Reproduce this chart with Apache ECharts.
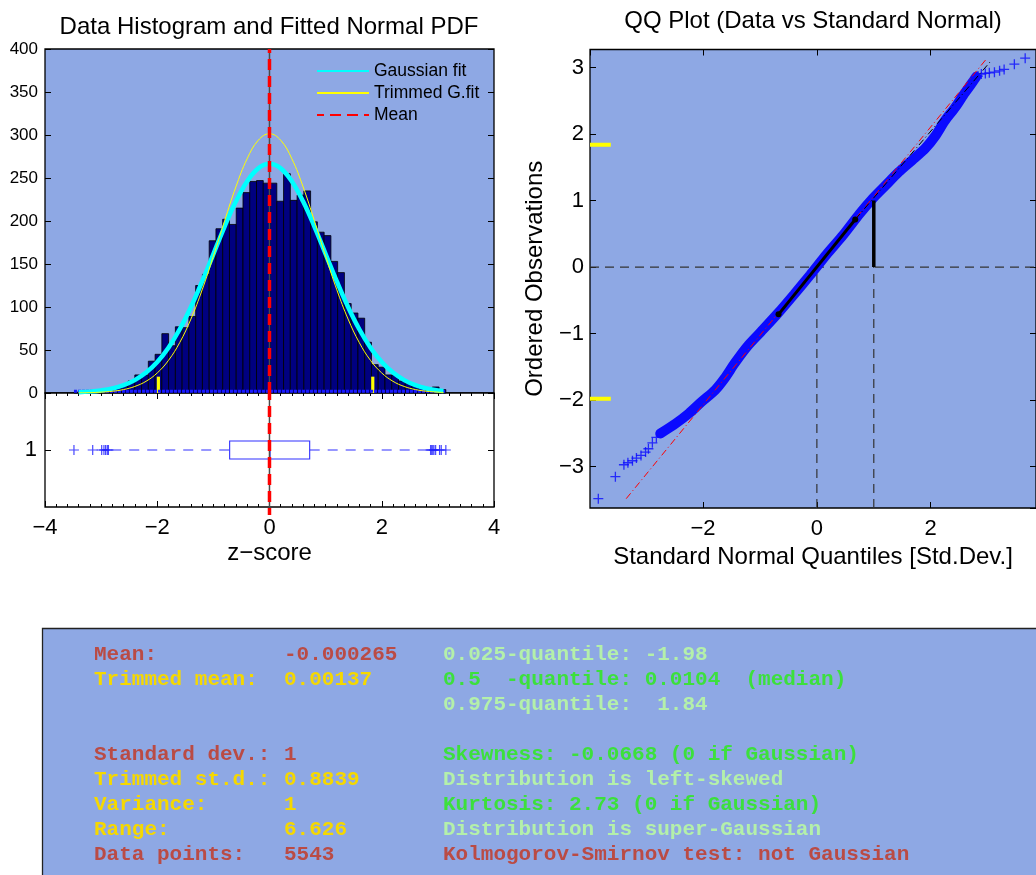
<!DOCTYPE html>
<html>
<head>
<meta charset="utf-8">
<script src="https://cdn.jsdelivr.net/npm/echarts@6.0.0/dist/echarts.min.js"></script>
<style>
html,body{margin:0;padding:0;background:#ffffff;}
#chart{width:1036px;height:875px;}
</style>
</head>
<body>
<div id="chart"></div>
<script>
// ---------------- Histogram (z-score) ----------------
const histBinStart = -3.484;
const histBinWidth = 0.12047;
const histCounts = [1,0,1,1,3,5,7,8,14,21,21,37,45,69,55,77,76,89,125,138,177,191,202,196,215,233,246,247,244,244,223,255,224,230,235,199,187,183,153,140,104,93,87,59,33,30,21,21,14,11,9,7,5,7,4];
const quantileMarksX = [-1.98, 1.84];
const quantileMarkHeight = 19;
const rugRange = [-3.484, 3.142];
const rugLevel = 2;
const meanValue = -0.000265;
const curveX      = [-3.4,-3.2,-3.0,-2.8,-2.6,-2.4,-2.2,-2.0,-1.8,-1.6,-1.4,-1.2,-1.0,-0.8,-0.6,-0.4,-0.2,0,0.2,0.4,0.6,0.8,1.0,1.2,1.4,1.6,1.8,2.0,2.2,2.4,2.6,2.8,3.0,3.1];
const gaussFitY   = [0.8,1.6,3.0,5.3,9.1,15.0,23.7,36.1,52.7,74.1,100,129.7,161.6,193.5,222.6,246,261.2,266.5,261.2,246,222.6,193.5,161.6,129.7,100,74.1,52.7,36.1,23.7,15.0,9.1,5.3,3.0,2.2];
const trimmedFitY = [0.2,0.4,1.0,2.0,4.0,7.6,13.6,23.3,37.9,58.6,86,119.9,159,200.2,239.5,272.2,293.9,301.5,293.9,272.2,239.5,200.2,159,119.9,86,58.6,37.9,23.3,13.6,7.6,4.0,2.0,1.0,0.6];
const histYTicks = [0,400,50];

// ---------------- Box plot ----------------
const boxCategories = ['1'];
const boxStats = [-2.82, -0.71, 0.0104, 0.716, 2.84]; // low whisker, q1, median, q3, high whisker
const boxOutliers = [-3.484,-3.15,-2.99,-2.95,-2.92,-2.89,-2.87,2.87,2.89,2.91,2.93,2.96,3.03,3.06,3.142];

// ---------------- QQ plot ----------------
const qqXRange = [-3.986, 3.85];
const qqYRange = [-3.62, 3.27];
const qqBandX = [-2.75,-2.48,-2.25,-2.02,-1.79,-1.62,-1.44,-1.21,-0.98,-0.69,-0.40,-0.12,0.17,0.46,0.75,0.98,1.21,1.44,1.68,1.91,2.08,2.25,2.43,2.57,2.72,2.80];
const qqBandY = [-2.50,-2.35,-2.20,-2.02,-1.85,-1.67,-1.44,-1.18,-0.97,-0.70,-0.41,-0.12,0.19,0.48,0.80,1.03,1.23,1.43,1.61,1.79,1.97,2.20,2.40,2.58,2.76,2.86];
const qqTailX = [-3.84,-3.54,-3.39,-3.32,-3.24,-3.17,-3.09,-3.01,-2.96,-2.89,-2.82, 2.83,2.89,2.96,3.03,3.12,3.21,3.29,3.47,3.66];
const qqTailY = [-3.48,-3.15,-2.97,-2.94,-2.91,-2.87,-2.83,-2.78,-2.73,-2.64,-2.56, 2.87,2.90,2.91,2.92,2.93,2.95,2.97,3.05,3.14];
const qqRefLineX = [-3.35, 2.99];
const qqRefLineY = [-3.48, 3.14];
const qqIqrX = [-0.674, 0.674];
const qqIqrY = [-0.71, 0.716];
const qqExtX = [0.674, 3.07];
const qqExtY = [0.716, 3.11];
const qqSigmaX = 1;
const qqSigmaTop = 1;
const qqQuantileY = [1.84, -1.98];
const qqQuantileMarkEnd = -3.62;

// ---------------- Statistics text ----------------
const statLabels = ['Mean:', 'Trimmed mean:', '', '', 'Standard dev.:', 'Trimmed st.d.:', 'Variance:', 'Range:', 'Data points:'];
const statValues = ['-0.000265', '0.00137', '', '', '1', '0.8839', '1', '6.626', '5543'];
const statNotes  = ['0.025-quantile: -1.98', '0.5  -quantile: 0.0104  (median)', '0.975-quantile:  1.84', '',
                    'Skewness: -0.0668 (0 if Gaussian)', 'Distribution is left-skewed', 'Kurtosis: 2.73 (0 if Gaussian)',
                    'Distribution is super-Gaussian', 'Kolmogorov-Smirnov test: not Gaussian'];
const statLabelColor = ['red','yellow','','','red','yellow','yellow','yellow','red'];
const statNoteColor  = ['pale','green','pale','','green','pale','green','pale','red'];

// ---------------- styling ----------------
const BG = '#8EA8E4';
const FONT = '"Liberation Sans", Arial, Helvetica, sans-serif';
const MONO = '"Liberation Mono", "DejaVu Sans Mono", monospace';
const COLORS = {red:'#BA4B45', yellow:'#F5D800', pale:'#B4F0AA', green:'#3CE03C'};
const minusFmt = v => String(v).replace('-', '\u2212');

const histData = histCounts.map((c, i) => [histBinStart + i * histBinWidth, histBinStart + (i + 1) * histBinWidth, c]);
const pairs = (xs, ys) => xs.map((x, i) => [x, ys[i]]);

const tickIn = {show:true, inside:true, length:6, lineStyle:{color:'#000', width:1}};
const noLine = {show:false, onZero:false};

const chart = echarts.init(document.getElementById('chart'), null, {renderer:'canvas'});

const graphic = [
  {type:'text', x:269, y:27, style:{text:'Data Histogram and Fitted Normal PDF', font:'24px ' + FONT, fill:'#000', align:'center', verticalAlign:'middle', textAlign:'center', textVerticalAlign:'middle'}},
  {type:'text', x:813, y:21, style:{text:'QQ Plot (Data vs Standard Normal)', font:'24px ' + FONT, fill:'#000', align:'center', verticalAlign:'middle', textAlign:'center', textVerticalAlign:'middle'}},
  {type:'rect', shape:{x:42.5, y:628.5, width:1100, height:400}, style:{fill:BG, stroke:'#222', lineWidth:1.3}}
];
statLabels.forEach((t, i) => {
  const y = 655 + 25 * i;
  const mk = (x, text, col) => ({type:'text', x:x, y:y, style:{text:text, font:'bold 21px ' + MONO, fill:COLORS[col] || '#000', align:'left', verticalAlign:'middle', textAlign:'left', textVerticalAlign:'middle'}});
  if (statLabels[i]) graphic.push(mk(94, statLabels[i], statLabelColor[i]));
  if (statValues[i]) graphic.push(mk(284, statValues[i], statLabelColor[i]));
  if (statNotes[i]) graphic.push(mk(443, statNotes[i], statNoteColor[i]));
});

const option = {
  animation: false,
  backgroundColor: '#ffffff',
  graphic: graphic,
  legend: {
    data: ['Gaussian fit', 'Trimmed G.fit', 'Mean'],
    orient: 'vertical', left: 316, top: 62, padding: 0,
    itemWidth: 52, itemHeight: 14, itemGap: 4,
    itemStyle: {color: 'rgba(0,0,0,0)', borderWidth: 0, opacity: 0},
    textStyle: {fontSize: 17.5, fontFamily: FONT, color: '#000'},
    selectedMode: false
  },
  grid: [
    {left:45, top:49, width:449, height:344, show:true, backgroundColor:BG, borderColor:'#000', borderWidth:1.3},
    {left:45, top:393, width:449, height:114, show:true, backgroundColor:'#ffffff', borderColor:'#000', borderWidth:1.3},
    {left:590, top:49.5, width:450, height:458.5, show:true, backgroundColor:BG, borderColor:'#000', borderWidth:1.3}
  ],
  xAxis: [
    {gridIndex:0, type:'value', min:-4, max:4, interval:2, axisLine:noLine, axisTick:{show:false}, axisLabel:{show:false}, splitLine:{show:false}},
    {gridIndex:1, type:'value', min:-4, max:4, interval:2, position:'bottom', axisLine:noLine, axisTick:tickIn,
      minorTick:{show:true, splitNumber:10, length:3, lineStyle:{color:'#000'}}, minorSplitLine:{show:false},
      axisLabel:{fontSize:22, fontFamily:FONT, color:'#000', margin:10, formatter:minusFmt}, splitLine:{show:false},
      name:'z\u2212score', nameLocation:'middle', nameGap:34, nameTextStyle:{fontSize:24, fontFamily:FONT, color:'#000'}},
    {gridIndex:1, type:'value', min:-4, max:4, interval:2, position:'top', axisLine:noLine, axisTick:tickIn,
      minorTick:{show:true, splitNumber:10, length:3, lineStyle:{color:'#000'}}, axisLabel:{show:false}, splitLine:{show:false}},
    {gridIndex:2, type:'value', min:qqXRange[0], max:qqXRange[1], position:'bottom', axisLine:noLine, axisTick:tickIn,
      axisLabel:{fontSize:22, fontFamily:FONT, color:'#000', margin:10, formatter:minusFmt, showMinLabel:false, showMaxLabel:false}, splitLine:{show:false},
      name:'Standard Normal Quantiles [Std.Dev.]', nameLocation:'middle', nameGap:33, nameTextStyle:{fontSize:24, fontFamily:FONT, color:'#000'}},
    {gridIndex:2, type:'value', min:qqXRange[0], max:qqXRange[1], position:'top', axisLine:noLine, axisTick:tickIn, axisLabel:{show:false}, splitLine:{show:false}}
  ],
  yAxis: [
    {gridIndex:0, type:'value', min:histYTicks[0], max:histYTicks[1], interval:histYTicks[2], position:'left', axisLine:noLine, axisTick:tickIn,
      axisLabel:{fontSize:17, fontFamily:FONT, color:'#000', margin:7}, splitLine:{show:false}},
    {gridIndex:0, type:'value', min:histYTicks[0], max:histYTicks[1], interval:histYTicks[2], position:'right', axisLine:noLine, axisTick:tickIn, axisLabel:{show:false}, splitLine:{show:false}},
    {gridIndex:1, type:'category', data:boxCategories, position:'left', axisLine:noLine, axisTick:{show:true, inside:true, length:6, alignWithLabel:true, lineStyle:{color:'#000'}},
      axisLabel:{fontSize:22, fontFamily:FONT, color:'#000', margin:8}, splitLine:{show:false}},
    {gridIndex:1, type:'category', data:boxCategories, position:'right', axisLine:noLine, axisTick:{show:true, inside:true, length:6, alignWithLabel:true, lineStyle:{color:'#000'}}, axisLabel:{show:false}},
    {gridIndex:2, type:'value', min:qqYRange[0], max:qqYRange[1], position:'left', axisLine:noLine, axisTick:tickIn,
      axisLabel:{fontSize:22, fontFamily:FONT, color:'#000', margin:6, formatter:minusFmt, showMinLabel:false, showMaxLabel:false}, splitLine:{show:false},
      name:'Ordered Observations', nameLocation:'middle', nameGap:43, nameRotate:90, nameTextStyle:{fontSize:24, fontFamily:FONT, color:'#000'}},
    {gridIndex:2, type:'value', min:qqYRange[0], max:qqYRange[1], position:'right', axisLine:noLine, axisTick:tickIn, axisLabel:{show:false}, splitLine:{show:false}}
  ],
  series: [
    // ---- histogram ----
    {type:'custom', xAxisIndex:0, yAxisIndex:0, data:histData, encode:{x:[0,1], y:2}, silent:true,
      renderItem: function (params, api) {
        const p0 = api.coord([api.value(0), api.value(2)]);
        const p1 = api.coord([api.value(1), 0]);
        return {type:'rect', shape:{x:p0[0], y:p0[1], width:p1[0]-p0[0], height:p1[1]-p0[1]}, style:{fill:'#000080', stroke:'#000000', lineWidth:0.8}};
      }},
    {type:'line', xAxisIndex:0, yAxisIndex:0, data:[[rugRange[0], rugLevel],[rugRange[1], rugLevel]], symbol:'none', silent:true,
      lineStyle:{color:'#1a1aff', width:3, type:[3,1]}},
    {type:'custom', xAxisIndex:0, yAxisIndex:0, data:quantileMarksX.map(x => [x, quantileMarkHeight]), silent:true,
      renderItem: function (params, api) {
        const top = api.coord([api.value(0), api.value(1)]);
        const bot = api.coord([api.value(0), 0]);
        return {type:'rect', shape:{x:top[0]-1.6, y:top[1], width:3.2, height:bot[1]-top[1]}, style:{fill:'#ffff00'}};
      }},
    {name:'Gaussian fit', type:'line', xAxisIndex:0, yAxisIndex:0, data:pairs(curveX, gaussFitY), smooth:0.4, symbol:'none', silent:true,
      lineStyle:{color:'#00ffff', width:4.5}, itemStyle:{color:'#00ffff'}},
    {name:'Trimmed G.fit', type:'line', xAxisIndex:0, yAxisIndex:0, data:pairs(curveX, trimmedFitY), smooth:0.4, symbol:'none', silent:true,
      lineStyle:{color:'#ffff00', width:1}, itemStyle:{color:'#ffff00'}},
    {type:'line', xAxisIndex:0, yAxisIndex:0, data:[[meanValue, histYTicks[0]],[meanValue, histYTicks[1]]], symbol:'none', silent:true,
      lineStyle:{color:'#4a4a4a', width:1.5}},
    {name:'Mean', type:'line', xAxisIndex:0, yAxisIndex:0, data:[[meanValue, histYTicks[0]],[meanValue, histYTicks[1]]], symbol:'none', silent:true, clip:false,
      lineStyle:{color:'#ff0000', width:3.5, type:[11,6]}, itemStyle:{color:'#ff0000'}},
    // ---- box plot ----
    {type:'custom', xAxisIndex:1, yAxisIndex:2, data:[[boxStats[1], boxStats[3], boxStats[2], boxStats[0], boxStats[4], 0]], encode:{x:[0,1,2,3,4], y:5}, silent:true,
      renderItem: function (params, api) {
        const q1 = api.coord([api.value(0), api.value(5)]);
        const q3 = api.coord([api.value(1), api.value(5)]);
        const md = api.coord([api.value(2), api.value(5)]);
        const lo = api.coord([api.value(3), api.value(5)]);
        const hi = api.coord([api.value(4), api.value(5)]);
        const yc = q1[1], h = 9;
        const st = {stroke:'#3030ff', lineWidth:1.1, fill:null};
        const dash = {stroke:'#3030ff', lineWidth:1.1, lineDash:[10,8]};
        return {type:'group', children:[
          {type:'line', shape:{x1:lo[0], y1:yc, x2:q1[0], y2:yc}, style:dash},
          {type:'line', shape:{x1:q3[0], y1:yc, x2:hi[0], y2:yc}, style:dash},
          {type:'rect', shape:{x:q1[0], y:yc-h, width:q3[0]-q1[0], height:2*h}, style:st},
          {type:'line', shape:{x1:md[0], y1:yc-h, x2:md[0], y2:yc+h}, style:{stroke:'#3030ff', lineWidth:1.1}}
        ]};
      }},
    {type:'scatter', xAxisIndex:1, yAxisIndex:2, data:boxOutliers.map(x => [x, 0]), silent:true,
      symbol:'path://M0,5L10,5M5,0L5,10', symbolSize:10,
      itemStyle:{color:'rgba(0,0,0,0)', borderColor:'#1a1aff', borderWidth:1.2}},
    {type:'custom', xAxisIndex:1, yAxisIndex:2, data:[[meanValue, 0]], silent:true,
      renderItem: function (params, api) {
        const x = api.coord([api.value(0), 0])[0];
        const cs = params.coordSys;
        return {type:'group', children:[
          {type:'line', shape:{x1:x, y1:cs.y, x2:x, y2:cs.y+cs.height}, style:{stroke:'#4a4a4a', lineWidth:1.5}},
          {type:'line', shape:{x1:x, y1:cs.y, x2:x, y2:cs.y+cs.height+8}, style:{stroke:'#ff0000', lineWidth:3.5, lineDash:[11,6], lineDashOffset:4}}
        ]};
      }},
    // ---- QQ plot ----
    {type:'line', xAxisIndex:3, yAxisIndex:4, data:[[qqXRange[0],0],[qqXRange[1],0]], symbol:'none', silent:true, lineStyle:{color:'#333', width:1.2, type:[9,6]}},
    {type:'line', xAxisIndex:3, yAxisIndex:4, data:[[0,qqYRange[0]],[0,0]], symbol:'none', silent:true, lineStyle:{color:'#333', width:1.2, type:[9,6]}},
    {type:'line', xAxisIndex:3, yAxisIndex:4, data:[[qqSigmaX,qqYRange[0]],[qqSigmaX,0]], symbol:'none', silent:true, lineStyle:{color:'#333', width:1.2, type:[9,6]}},
    {type:'line', xAxisIndex:3, yAxisIndex:4, data:[[qqXRange[0],qqQuantileY[0]],[qqQuantileMarkEnd,qqQuantileY[0]]], symbol:'none', silent:true, lineStyle:{color:'#ffff00', width:4}},
    {type:'line', xAxisIndex:3, yAxisIndex:4, data:[[qqXRange[0],qqQuantileY[1]],[qqQuantileMarkEnd,qqQuantileY[1]]], symbol:'none', silent:true, lineStyle:{color:'#ffff00', width:4}},
    {type:'line', xAxisIndex:3, yAxisIndex:4, data:pairs(qqBandX, qqBandY), smooth:0.25, symbol:'none', silent:true,
      lineStyle:{color:'#0a0aff', width:10, cap:'round'}},
    {type:'scatter', xAxisIndex:3, yAxisIndex:4, data:pairs(qqTailX, qqTailY), silent:true,
      symbol:'path://M0,5L10,5M5,0L5,10', symbolSize:10,
      itemStyle:{color:'rgba(0,0,0,0)', borderColor:'#0a0aff', borderWidth:1.3}},
    {type:'line', xAxisIndex:3, yAxisIndex:4, data:pairs(qqRefLineX, qqRefLineY), symbol:'none', silent:true,
      lineStyle:{color:'#ff0000', width:1, type:[7,3,1,3]}},
    {type:'line', xAxisIndex:3, yAxisIndex:4, data:pairs(qqExtX, qqExtY), symbol:'none', silent:true,
      lineStyle:{color:'#000', width:1, type:[7,3,1,3]}},
    {type:'line', xAxisIndex:3, yAxisIndex:4, data:pairs(qqIqrX, qqIqrY), symbol:'circle', symbolSize:6, silent:true,
      lineStyle:{color:'#000', width:3}, itemStyle:{color:'#000'}},
    {type:'line', xAxisIndex:3, yAxisIndex:4, data:[[qqSigmaX,0],[qqSigmaX,qqSigmaTop]], symbol:'none', silent:true,
      lineStyle:{color:'#000', width:3.5}}
  ]
};
chart.setOption(option);
</script>
</body>
</html>
